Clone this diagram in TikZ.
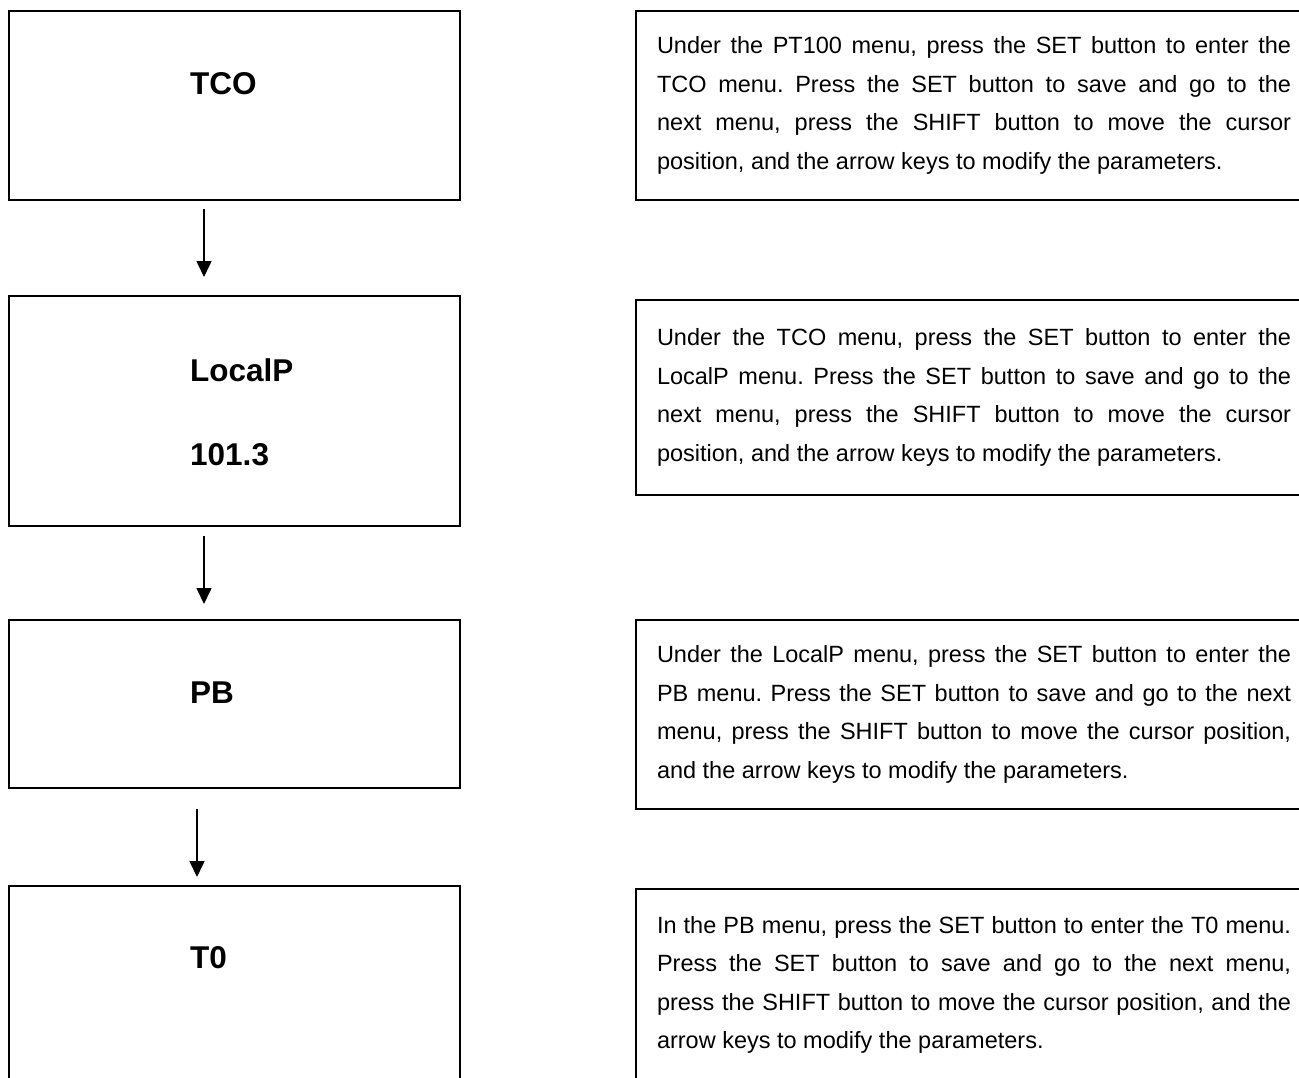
\documentclass[tikz,border=0pt]{standalone}
\usepackage{fontspec}
\setmainfont{Liberation Sans}
\usetikzlibrary{positioning,arrows.meta}
\tolerance=10000
\hyphenpenalty=10000
\frenchspacing

\tikzset{
  menubox/.style={draw,line width=1.8pt,minimum width=451pt,inner sep=0pt,outer sep=0pt},
  menulabel/.style={anchor=west,inner sep=0pt,font=\fontsize{31.5}{38}\selectfont\bfseries},
  notebox/.style={draw,line width=1.8pt,anchor=north west,text width=634pt,outer sep=0pt,
    inner xsep=21pt,inner ysep=0pt,align=justify,font=\fontsize{23.5}{38.5}\selectfont},
  flow/.style={-{Triangle[width=15pt,length=16pt]},line width=1.6pt}
}

\begin{document}
\begin{tikzpicture}[x=1pt,y=1pt]
  \useasboundingbox (0,0) rectangle (1299,-1077);
  \clip (0,0) rectangle (1299,-1077);

  \node[menubox,minimum height=189pt,anchor=north west] (tco) at (9,-11) {};
  \node[menubox,minimum height=230pt] (localp) [below=96pt of tco] {};
  \node[menubox,minimum height=168pt] (pb) [below=94pt of localp] {};
  \node[menubox,minimum height=230pt] (t0) [below=98pt of pb] {};

  \node[menulabel] (tcolabel) at ([shift={(181pt,-73pt)}]tco.north west) {TCO};
  \node[menulabel] (localplabel) at ([shift={(181pt,-74pt)}]localp.north west) {LocalP};
  \node[menulabel] (localpvalue) at ([shift={(181pt,-159pt)}]localp.north west) {101.3};
  \node[menulabel] (pblabel) at ([shift={(181pt,-73pt)}]pb.north west) {PB};
  \node[menulabel] (t0label) at ([shift={(181pt,-72pt)}]t0.north west) {T0};

  \draw[flow] ([xshift=-30.5pt,yshift=-9pt]tco.south) -- ([xshift=-30.5pt,yshift=19pt]localp.north);
  \draw[flow] ([xshift=-30.5pt,yshift=-10pt]localp.south) -- ([xshift=-30.5pt,yshift=16pt]pb.north);
  \draw[flow] ([xshift=-37.5pt,yshift=-21pt]pb.south) -- ([xshift=-37.5pt,yshift=9pt]t0.north);

  \node[notebox,minimum height=189pt] (tconote) at ([xshift=176pt]tco.north east)
    {Under the PT100 menu, press the SET button to enter the\linebreak
     TCO menu. Press the SET button to save and go to the\linebreak
     next menu, press the SHIFT button to move the cursor\linebreak
     position, and the arrow keys to modify the parameters.};
  \node[notebox,minimum height=195pt] (localpnote) at ([shift={(176pt,-4pt)}]localp.north east)
    {Under the TCO menu, press the SET button to enter the\linebreak
     LocalP menu. Press the SET button to save and go to the\linebreak
     next menu, press the SHIFT button to move the cursor\linebreak
     position, and the arrow keys to modify the parameters.};
  \node[notebox,minimum height=189pt] (pbnote) at ([xshift=176pt]pb.north east)
    {Under the LocalP menu, press the SET button to enter the\linebreak
     PB menu. Press the SET button to save and go to the next\linebreak
     menu, press the SHIFT button to move the cursor position,\linebreak
     and the arrow keys to modify the parameters.};
  \node[notebox,minimum height=192pt] (t0note) at ([shift={(176pt,-3pt)}]t0.north east)
    {In the PB menu, press the SET button to enter the T0 menu.\linebreak
     Press the SET button to save and go to the next menu,\linebreak
     press the SHIFT button to move the cursor position, and the\linebreak
     arrow keys to modify the parameters.\par\vspace*{24pt}};
\end{tikzpicture}
\end{document}
